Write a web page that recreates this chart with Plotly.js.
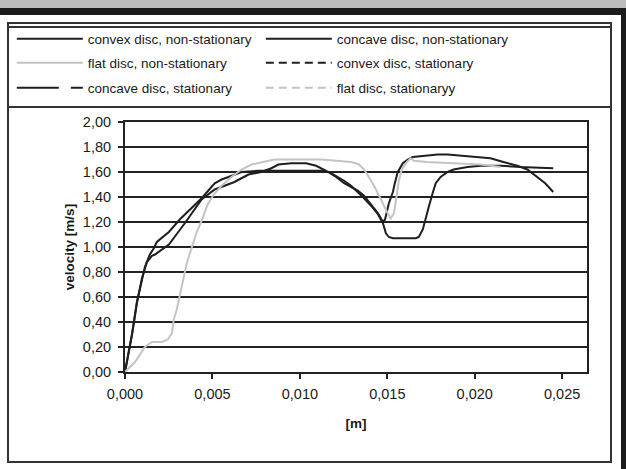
<!DOCTYPE html>
<html>
<head>
<meta charset="utf-8">
<script src="https://cdn.plot.ly/plotly-3.0.1.min.js"></script>
<style>
  html, body { margin: 0; padding: 0; background: #ffffff; }
  #wrap { position: relative; width: 626px; height: 469px; overflow: hidden; }
  #chart { position: absolute; left: 0; top: 0; width: 626px; height: 469px; }
  .deco { position: absolute; pointer-events: none; box-sizing: border-box; }
  #bandGray  { left: 0; top: 0; width: 626px; height: 8px; background: #bdbdbd; }
  #bandBlack { left: 0; top: 8px; width: 626px; height: 7px; background: #1c1c1c; }
  #edgeRight { left: 621px; top: 8px; width: 5px; height: 461px; background: #1c1c1c; }
  #frame     { left: 7px; top: 22px; width: 605px; height: 441px; border: 2px solid #333333; }
  #legTop    { left: 7px; top: 26px; width: 605px; height: 2px; background: #333333; }
  #legBottom { left: 7px; top: 106px; width: 605px; height: 2px; background: #333333; }
</style>
</head>
<body>
<div id="wrap">
  <div id="chart"></div>
  <div class="deco" id="bandGray"></div>
  <div class="deco" id="bandBlack"></div>
  <div class="deco" id="edgeRight"></div>
  <div class="deco" id="frame"></div>
  <div class="deco" id="legTop"></div>
  <div class="deco" id="legBottom"></div>
</div>
<script>
// Distance along the disc [m] and measured velocity [m/s]
const convexNsX = [0, 0.00023, 0.00040, 0.00068, 0.00097, 0.00125, 0.00154, 0.00171, 0.00251, 0.00342,
  0.00438, 0.00513, 0.00592, 0.00626, 0.00666, 0.00706, 0.00780, 0.00837, 0.00877, 0.00951,
  0.01036, 0.01093, 0.01150, 0.01207, 0.01253, 0.01293, 0.01333, 0.01367, 0.01407, 0.01447,
  0.01475, 0.01487, 0.01509, 0.01532, 0.01543, 0.01560, 0.01589, 0.01617, 0.01646, 0.01731,
  0.01788, 0.01845, 0.01919, 0.02016, 0.02090, 0.02164, 0.02244, 0.02301, 0.02358, 0.02403,
  0.02449];
const convexNsY = [0, 0.17, 0.30, 0.55, 0.75, 0.88, 0.93, 0.94, 1.02, 1.19,
  1.38, 1.46, 1.50, 1.52, 1.55, 1.58, 1.60, 1.63, 1.66, 1.67,
  1.67, 1.65, 1.61, 1.56, 1.51, 1.48, 1.45, 1.41, 1.34, 1.27,
  1.20, 1.22, 1.35, 1.44, 1.51, 1.60, 1.67, 1.70, 1.72, 1.73,
  1.74, 1.74, 1.73, 1.72, 1.71, 1.68, 1.65, 1.62, 1.56, 1.51,
  1.44];

const concaveNsX = [0, 0.00023, 0.00040, 0.00068, 0.00097, 0.00114, 0.00142, 0.00165, 0.00182, 0.00251,
  0.00313, 0.00382, 0.00438, 0.00513, 0.00552, 0.00592, 0.00666, 0.00763, 0.01122, 0.01167,
  0.01207, 0.01253, 0.01293, 0.01333, 0.01367, 0.01407, 0.01447, 0.01475, 0.01492, 0.01509,
  0.01532, 0.01663, 0.01680, 0.01703, 0.01720, 0.01737, 0.01759, 0.01777, 0.01805, 0.01845,
  0.01879, 0.01959, 0.02033, 0.02090, 0.02147, 0.02261, 0.02449];
const concaveNsY = [0, 0.17, 0.30, 0.56, 0.75, 0.84, 0.94, 0.99, 1.04, 1.12,
  1.22, 1.31, 1.39, 1.51, 1.54, 1.56, 1.60, 1.61, 1.61, 1.60,
  1.57, 1.53, 1.49, 1.44, 1.39, 1.33, 1.26, 1.19, 1.11, 1.08,
  1.07, 1.07, 1.08, 1.14, 1.22, 1.32, 1.43, 1.51, 1.56, 1.60,
  1.62, 1.64, 1.65, 1.65, 1.65, 1.64, 1.63];

const flatNsX = [0, 0.00057, 0.00114, 0.00154, 0.00211, 0.00245, 0.00268, 0.00279, 0.00296, 0.00313,
  0.00330, 0.00353, 0.00382, 0.00410, 0.00438, 0.00473, 0.00507, 0.00552, 0.00609, 0.00666,
  0.00723, 0.00780, 0.00854, 0.01122, 0.01213, 0.01293, 0.01338, 0.01367, 0.01390, 0.01424,
  0.01464, 0.01498, 0.01520, 0.01538, 0.01549, 0.01566, 0.01583, 0.01612, 0.01634, 0.01651,
  0.01726, 0.01919, 0.02033, 0.02147];
const flatNsY = [0, 0.08, 0.20, 0.24, 0.24, 0.26, 0.31, 0.42, 0.50, 0.60,
  0.72, 0.87, 1.00, 1.12, 1.21, 1.34, 1.42, 1.49, 1.56, 1.62,
  1.66, 1.68, 1.70, 1.70, 1.69, 1.68, 1.66, 1.62, 1.57, 1.49,
  1.38, 1.28, 1.23, 1.27, 1.37, 1.53, 1.62, 1.68, 1.71, 1.69,
  1.68, 1.67, 1.66, 1.64];

// Stationary runs: no valid samples, so they appear in the key only
const convexStX = [null], convexStY = [null];
const concaveStX = [null], concaveStY = [null];
const flatStX = [null], flatStY = [null];

const xTicks = [0, 0.005, 0.010, 0.015, 0.020, 0.025];

const black = '#1f1f1f';
const grey = '#c4c4c4';
const longDash = '42px,12px,14px,14px';

const traces = [
  { name: 'convex disc, non-stationary', x: convexNsX, y: convexNsY, legend: 'legend',
    line: { color: black, width: 2 } },
  { name: 'concave disc, non-stationary', x: concaveNsX, y: concaveNsY, legend: 'legend',
    line: { color: black, width: 2 } },
  { name: 'flat disc, non-stationary', x: flatNsX, y: flatNsY, legend: 'legend2',
    line: { color: grey, width: 2 } },
  { name: 'convex disc, stationary', x: convexStX, y: convexStY, legend: 'legend2',
    line: { color: black, width: 2, dash: '8px,5px' } },
  { name: 'concave disc, stationary', x: concaveStX, y: concaveStY, legend: 'legend3',
    line: { color: black, width: 2, dash: longDash } },
  { name: 'flat disc, stationaryy', x: flatStX, y: flatStY, legend: 'legend3',
    line: { color: grey, width: 2, dash: '8px,5px' } }
].map(t => Object.assign({ type: 'scatter', mode: 'lines', showlegend: true }, t));

const font = { family: 'Liberation Sans, Arial, sans-serif', color: '#1a1a1a' };

function legendRow(yPaper) {
  return {
    orientation: 'h', x: -0.245, xanchor: 'left', y: yPaper, yanchor: 'middle',
    bgcolor: 'rgba(0,0,0,0)', borderwidth: 0, itemwidth: 66,
    entrywidth: 168, entrywidthmode: 'pixels', itemclick: false, itemdoubleclick: false,
    font: Object.assign({ size: 13.5 }, font)
  };
}

const plotTop = 122, plotBottom = 372;
const toPaperY = py => (plotBottom - py) / (plotBottom - plotTop);

const layout = {
  width: 626, height: 469,
  margin: { l: 123, r: 39, t: 122, b: 97, pad: 0 },
  paper_bgcolor: '#ffffff', plot_bgcolor: '#ffffff',
  separators: ', ',
  font: Object.assign({ size: 13 }, font),
  showlegend: true,
  legend: legendRow(toPaperY(39)),
  legend2: legendRow(toPaperY(63)),
  legend3: legendRow(toPaperY(88)),
  xaxis: {
    range: [0, 0.02642], tickvals: xTicks, tickformat: '.3f',
    showgrid: false, zeroline: false,
    showline: true, mirror: true, linecolor: '#222222', linewidth: 2,
    ticks: 'outside', ticklen: 5, tickwidth: 2, tickcolor: '#222222',
    ticklabelstandoff: 3,
    tickfont: Object.assign({ size: 14.5 }, font),
    title: { text: '<b>[m]</b>', font: Object.assign({ size: 13.5 }, font), standoff: 17 },
    automargin: false, fixedrange: true
  },
  yaxis: {
    range: [0, 2], dtick: 0.2, tick0: 0, tickformat: '.2f',
    showgrid: true, gridcolor: '#222222', gridwidth: 2, zeroline: false,
    showline: true, mirror: true, linecolor: '#222222', linewidth: 2,
    ticks: 'outside', ticklen: 5, tickwidth: 2, tickcolor: '#222222',
    ticklabelstandoff: 4,
    tickfont: Object.assign({ size: 14.5 }, font),
    title: { text: '<b>velocity [m/s]</b>', font: Object.assign({ size: 13.5 }, font), standoff: 5 },
    automargin: false, fixedrange: true
  }
};

Plotly.newPlot('chart', traces, layout, { displayModeBar: false, staticPlot: true });
</script>
</body>
</html>
